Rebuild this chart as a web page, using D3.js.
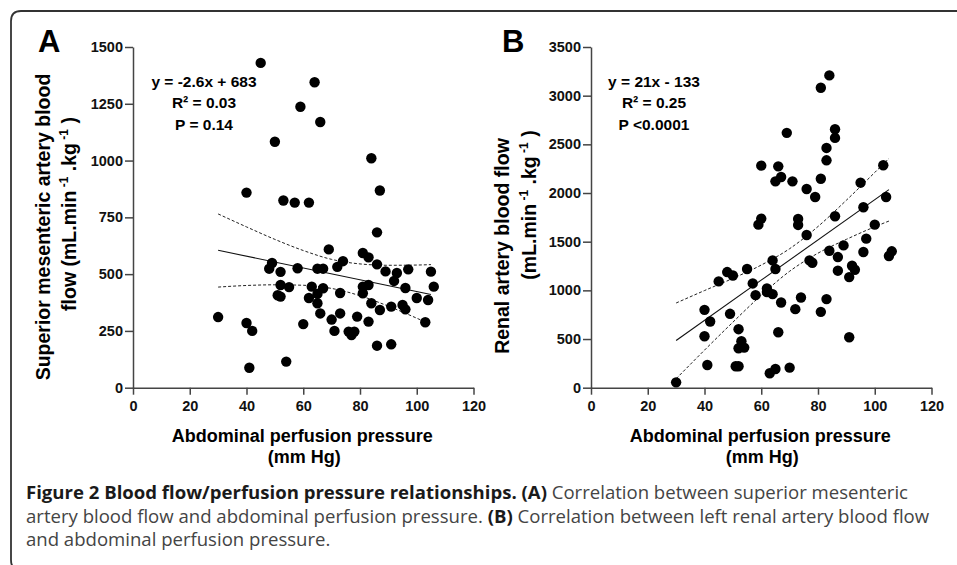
<!DOCTYPE html>
<html>
<head>
<meta charset="utf-8">
<script src="https://cdn.jsdelivr.net/npm/d3@7"></script>
<style>
  body { margin: 0; background: #fff; }
  svg { display: block; font-family: "Liberation Sans", Arial, sans-serif; }
  .tick text { font-size: 14.5px; font-weight: bold; fill: #111; font-family: "Liberation Sans", Arial, sans-serif; }
  .domain, .tick line { stroke: #444; stroke-width: 1.5; }
</style>
</head>
<body>
<div id="chart"></div>
<script>
// Panel A: superior mesenteric artery flow vs abdominal perfusion pressure
const smaPressure = [45, 64, 59, 66, 50, 84, 40, 87, 53, 57, 62, 86, 30, 40, 42, 41, 54, 69, 48, 49,
  52, 58, 52, 55, 51, 52, 60, 63, 62, 65, 65, 65, 67, 67, 66, 70, 71, 72, 74, 73, 73, 76, 77, 78, 79,
  81, 83, 81, 81, 83, 83, 84, 86, 86, 87, 89, 93, 92, 91, 91, 95, 96, 96, 97, 100, 103, 104, 105, 106];
const smaFlow = [1430, 1345, 1237, 1170, 1083, 1010, 859, 868, 824, 815, 815, 684, 311, 285, 250, 88, 115, 609, 524, 549,
  510, 526, 452, 443, 407, 401, 280, 445, 395, 413, 372, 524, 524, 438, 327, 300, 250, 532, 557, 417, 327, 247, 232, 247, 313,
  593, 574, 445, 416, 452, 291, 372, 543, 185, 342, 512, 505, 470, 357, 191, 364, 345, 439, 521, 395, 288, 386, 511, 445];

// Panel B: renal artery flow vs abdominal perfusion pressure
const renalPressure = [84, 81, 69, 86, 86, 83, 83, 60, 66, 65, 67, 71, 81, 76, 79, 95, 103, 104,
  59, 60, 73, 73, 86, 76, 96, 100, 97, 89, 84, 96, 87, 106, 105, 77, 78, 92, 93, 87, 91,
  64, 65, 55, 48, 50, 45, 57, 62, 62, 64, 58, 74, 83, 67, 72, 81, 40, 49, 42, 52, 40, 66,
  53, 52, 54, 91, 41, 51, 52, 63, 65, 70, 30];
const renalFlow = [3208, 3081, 2618, 2655, 2566, 2463, 2336, 2281, 2274, 2120, 2165, 2120, 2147, 2041, 1959, 2106, 2285, 1959,
  1675, 1737, 1734, 1672, 1761, 1569, 1854, 1675, 1531, 1462, 1407, 1394, 1342, 1401, 1353, 1308, 1284, 1253, 1212, 1202, 1136,
  1308, 1219, 1219, 1188, 1153, 1092, 1071, 1020, 982, 961, 951, 927, 910, 875, 807, 779, 800, 759, 680, 601, 529, 570,
  477, 405, 412, 518, 233, 220, 220, 148, 192, 206, 55];

// fitted lines and 95% bands
const fitX = [30, 105];
const smaFit = [605, 410];
const renalFit = [485, 2035];
const bandX = [30, 40, 50, 60, 70, 80, 90, 100, 105];
const smaUpper = [765, 708, 653, 604, 565, 545, 539, 540, 542];
const smaLower = [443, 450, 453, 451, 437, 405, 359, 306, 278];
const renalUpper = [870, 998, 1123, 1260, 1428, 1656, 1926, 2211, 2356];
const renalLower = [92, 386, 673, 950, 1196, 1382, 1524, 1653, 1712];

const xTicks = [0, 20, 40, 60, 80, 100, 120];
const smaTicks = [0, 250, 500, 750, 1000, 1250, 1500];
const renalTicks = [0, 500, 1000, 1500, 2000, 2500, 3000, 3500];

const width = 957, height = 565;
const svg = d3.select('#chart').append('svg')
    .attr('width', width)
    .attr('height', height);

// Figure frame
svg.append('path')
    .attr('d', 'M 960 11 H 21 Q 11 11 11 21 V 560 Q 11 570 21 570')
    .attr('fill', 'none')
    .attr('stroke', '#333')
    .attr('stroke-width', 1.8);

function drawPanel(opts) {
    const x = d3.scaleLinear().domain([0, 120]).range([opts.left, opts.left + 340.5]);
    const y = d3.scaleLinear().domain([0, opts.yMax]).range([387.7, 47]);
    const g = svg.append('g');

    g.append('g')
        .attr('transform', `translate(0,${y(0)})`)
        .call(d3.axisBottom(x).tickValues(xTicks).tickFormat(d3.format('d'))
            .tickSize(7).tickSizeOuter(0).tickPadding(6));

    g.append('g')
        .attr('transform', `translate(${x(0)},0)`)
        .call(d3.axisLeft(y).tickValues(opts.yTicks).tickFormat(d3.format('d'))
            .tickSize(8).tickSizeOuter(0).tickPadding(2));

    // confidence bands
    const line = d3.line().x(d => x(d[0])).y(d => y(d[1])).curve(d3.curveMonotoneX);
    [opts.upper, opts.lower].forEach(vals => {
        g.append('path')
            .attr('d', line(bandX.map((v, i) => [v, vals[i]])))
            .attr('fill', 'none')
            .attr('stroke', '#222')
            .attr('stroke-width', 1)
            .attr('stroke-dasharray', '3,2');
    });

    g.append('path')
        .attr('d', line(fitX.map((v, i) => [v, opts.fit[i]])))
        .attr('fill', 'none')
        .attr('stroke', '#111')
        .attr('stroke-width', 1.1);

    g.append('g')
        .selectAll('circle')
        .data(opts.xs.map((v, i) => [v, opts.ys[i]]))
        .join('circle')
        .attr('cx', d => x(d[0]))
        .attr('cy', d => y(d[1]))
        .attr('r', 5.2)
        .attr('fill', '#000');

    // panel letter
    g.append('text')
        .attr('x', opts.letterX).attr('y', 52)
        .attr('font-size', 31).attr('font-weight', 'bold')
        .text(opts.letter);

    // stats
    opts.stats.forEach((s, i) => {
        g.append('text')
            .attr('x', opts.statsX).attr('y', 87 + i * 21.3)
            .attr('text-anchor', 'middle')
            .attr('font-size', 15.5).attr('font-weight', 'bold')
            .text(s);
    });

    // x title
    const xc = (x(0) + x(120)) / 2 - 1;
    g.append('text').attr('x', xc).attr('y', 442)
        .attr('text-anchor', 'middle').attr('font-size', 18).attr('font-weight', 'bold')
        .text('Abdominal perfusion pressure');
    g.append('text').attr('x', xc + 2).attr('y', 463)
        .attr('text-anchor', 'middle').attr('font-size', 18).attr('font-weight', 'bold')
        .text('(mm Hg)');

    // y title, two rotated lines
    g.append('text')
        .attr('transform', `translate(${opts.yt1[0]},${opts.yt1[1]}) rotate(-90)`)
        .attr('text-anchor', 'middle').attr('font-size', 19.5).attr('font-weight', 'bold')
        .text(opts.yTitle);
    const t2 = g.append('text')
        .attr('transform', `translate(${opts.yt2[0]},${opts.yt2[1]}) rotate(-90)`)
        .attr('text-anchor', 'middle').attr('font-size', 19.5).attr('font-weight', 'bold');
    t2.append('tspan').text(opts.yUnitPrefix + '(mL.min');
    t2.append('tspan').attr('dy', -8).attr('font-size', 12).text(' -1');
    t2.append('tspan').attr('dy', 8).text(' .kg');
    t2.append('tspan').attr('dy', -8).attr('font-size', 12).text(' -1');
    t2.append('tspan').attr('dy', 8).text(' )');
}

drawPanel({
    left: 133, yMax: 1500, yTicks: smaTicks,
    xs: smaPressure, ys: smaFlow, fit: smaFit, upper: smaUpper, lower: smaLower,
    letter: 'A', letterX: 38,
    stats: ['y = -2.6x + 683', 'R\u00b2 = 0.03', 'P = 0.14'], statsX: 204,
    yTitle: 'Superior mesenteric artery blood', yUnitPrefix: 'flow ',
    yt1: [50, 227], yt2: [76, 214]
});

drawPanel({
    left: 591, yMax: 3500, yTicks: renalTicks,
    xs: renalPressure, ys: renalFlow, fit: renalFit, upper: renalUpper, lower: renalLower,
    letter: 'B', letterX: 502,
    stats: ['y = 21x - 133', 'R\u00b2 = 0.25', 'P <0.0001'], statsX: 654,
    yTitle: 'Renal artery blood flow', yUnitPrefix: '',
    yt1: [509, 246], yt2: [536, 205]
});

// Caption
const captionLines = [
    [['Figure 2 Blood flow/perfusion pressure relationships. ', true], ['(A)', true], [' Correlation between superior mesenteric', false]],
    [['artery blood flow and abdominal perfusion pressure. ', false], ['(B)', true], [' Correlation between left renal artery blood flow', false]],
    [['and abdominal perfusion pressure.', false]]
];
const capWidth = 882; // measured width of the first caption line
let squeeze = 1;
captionLines.forEach((parts, i) => {
    const t = svg.append('text')
        .attr('x', 26).attr('y', 499 + i * 23.5)
        .attr('font-family', '"Open Sans", "Noto Sans", sans-serif')
        .attr('font-size', 18);
    parts.forEach(p => {
        t.append('tspan')
            .attr('font-weight', p[1] ? 'bold' : 'normal')
            .attr('fill', p[1] ? '#1a1a1a' : '#444')
            .text(p[0]);
    });
    const len = t.node().getComputedTextLength();
    if (i === 0) squeeze = capWidth / len;
    t.attr('textLength', len * squeeze).attr('lengthAdjust', 'spacingAndGlyphs');
});
</script>
</body>
</html>
